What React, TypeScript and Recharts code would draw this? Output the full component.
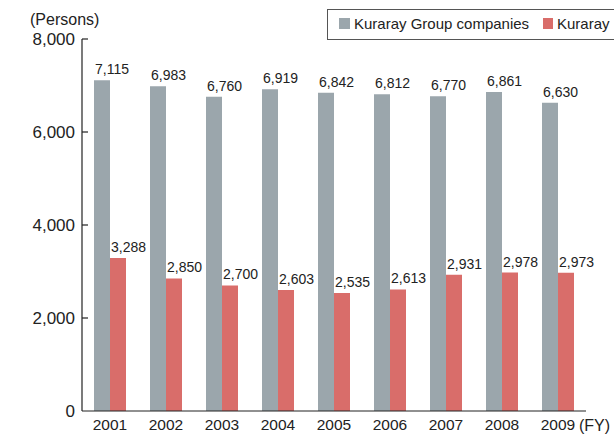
import { BarChart, Bar, XAxis, YAxis, LabelList } from 'recharts';

const years = ['2001', '2002', '2003', '2004', '2005', '2006', '2007', '2008', '2009'];
const groupCompanies = [7115, 6983, 6760, 6919, 6842, 6812, 6770, 6861, 6630];
const kuraray = [3288, 2850, 2700, 2603, 2535, 2613, 2931, 2978, 2973];
const yTicks = [0, 2000, 4000, 6000, 8000];

const data = years.map((year, i) => ({
    year,
    group: groupCompanies[i],
    kuraray: kuraray[i]
}));

const FONT = '"Liberation Sans", Arial, Helvetica, sans-serif';
const GRAY = '#9ba6ac';
const RED = '#d96d6a';
const INK = '#222';

const fmt = (v: number) => v.toLocaleString('en-US');

function YTick({ x, y, payload }: any) {
    return (
        <g>
            {payload.value !== 0 && <line x1={x} x2={x + 6} y1={y} y2={y} stroke={INK} strokeWidth={1.2} />}
            <text x={x - 7} y={y + 6} textAnchor="end" fontSize={17} fill={INK} fontFamily={FONT}>
                {fmt(payload.value)}
            </text>
        </g>
    );
}

function XTick({ x, y, payload }: any) {
    return (
        <text x={x} y={y + 19} textAnchor="middle" fontSize={15.5} fill={INK} fontFamily={FONT}>
            {payload.value}
        </text>
    );
}

function ValueLabel({ x, y, value }: any) {
    return (
        <text x={x + 1} y={y - 6} fontSize={14} fill={INK} fontFamily={FONT}>
            {fmt(value)}
        </text>
    );
}

export default function App() {
    return (
        <div style={{ position: 'absolute', left: 0, top: 0, width: 614, height: 434, background: '#fff' }}>
            <BarChart
                width={614}
                height={434}
                data={data}
                margin={{ top: 39, right: 28, bottom: 0, left: 0 }}
                barCategoryGap={12}
                barGap={0}
            >
                <XAxis
                    dataKey="year"
                    height={23}
                    tickSize={0}
                    tickMargin={0}
                    tickLine={false}
                    axisLine={{ stroke: INK, strokeWidth: 1.2 }}
                    tick={<XTick />}
                    interval={0}
                />
                <YAxis
                    width={82}
                    domain={[0, 8000]}
                    ticks={yTicks}
                    tickSize={0}
                    tickMargin={0}
                    tickLine={false}
                    axisLine={{ stroke: INK, strokeWidth: 1.2 }}
                    tick={<YTick />}
                />
                <Bar dataKey="group" fill={GRAY} isAnimationActive={false}>
                    <LabelList dataKey="group" content={<ValueLabel />} />
                </Bar>
                <Bar dataKey="kuraray" fill={RED} isAnimationActive={false}>
                    <LabelList dataKey="kuraray" content={<ValueLabel />} />
                </Bar>
            </BarChart>
            <svg
                width={614}
                height={434}
                style={{ position: 'absolute', left: 0, top: 0, pointerEvents: 'none' }}
            >
                <text x={30} y={25} fontSize={16} fill={INK} fontFamily={FONT}>(Persons)</text>
                <text x={579} y={431} fontSize={16} fill={INK} fontFamily={FONT}>(FY)</text>
                <rect x={327.5} y={9.5} width={300} height={30} fill="#fff" stroke="#555" strokeWidth={1} />
                <rect x={339} y={18} width={11} height={11} fill={GRAY} />
                <text x={354} y={29} fontSize={15} fill={INK} fontFamily={FONT}>Kuraray Group companies</text>
                <rect x={543} y={18} width={10} height={11} fill={RED} />
                <text x={557} y={29} fontSize={15} fill={INK} fontFamily={FONT}>Kuraray</text>
            </svg>
        </div>
    );
}
